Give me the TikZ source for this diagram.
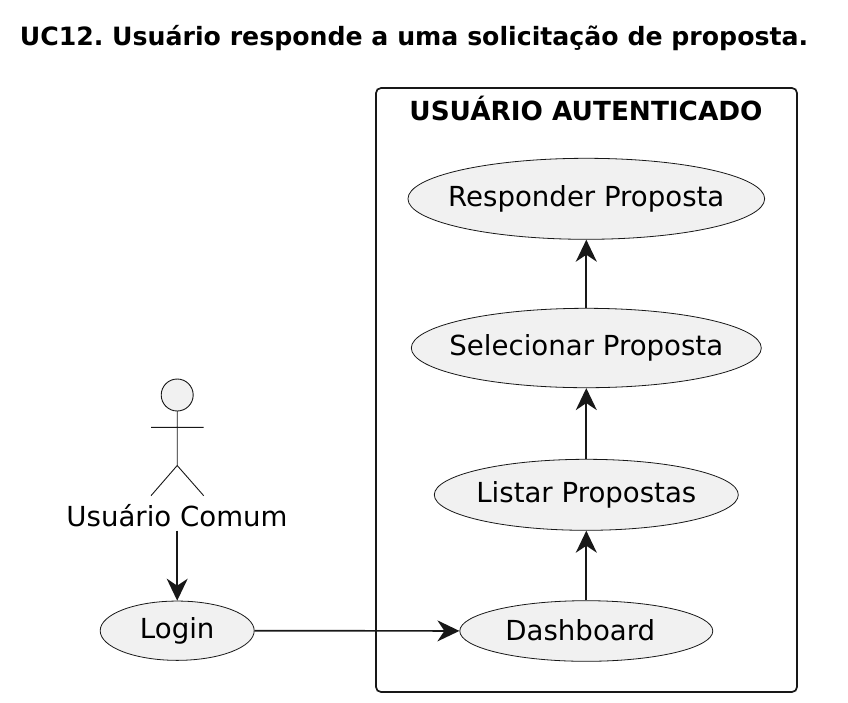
\documentclass[tikz,border=0pt]{standalone}
\usepackage{fontspec}
\setmainfont{DejaVu Sans}
\usetikzlibrary{shapes.geometric,arrows.meta}
\definecolor{ucfill}{HTML}{F1F1F1}
\definecolor{ucline}{HTML}{181818}
\frenchspacing
\tikzset{
  uc/.style={ellipse,draw=ucline,fill=ucfill,line width=0.8pt,inner xsep=-40pt,inner ysep=-10pt,font=\fontsize{27.6}{32}\selectfont},
  conn/.style={draw=ucline,line width=1.7pt,-{Stealth[length=22pt,width=21pt,inset=7pt]}},
  actorline/.style={draw=ucline,line width=0.9pt},
  lbl/.style={text=black,inner sep=0pt}
}
\begin{document}
\begin{tikzpicture}[x=1pt,y=-1pt]
\useasboundingbox (0,0) rectangle (848,702);
\fill[white] (0,0) rectangle (848,702);
\node[lbl,font=\bfseries\fontsize{25.2}{30}\selectfont] (title) at (414,38) {UC12. Usuário responde a uma solicitação de proposta.};
\draw[ucline,line width=1.7pt,rounded corners=5pt] (376,88) rectangle (797,692);
\node[lbl,font=\bfseries\fontsize{26.3}{30}\selectfont] (pkg) at (586,108) {USUÁRIO AUTENTICADO};
\node[uc,minimum width=356.7pt,minimum height=81pt] (r) at (586.3,198.8) {Responder Proposta};
\node[uc,minimum width=350pt,minimum height=79.4pt] (s) at (586.3,348) {Selecionar Proposta};
\node[uc,minimum width=304pt,minimum height=71pt] (l) at (586.3,494.8) {Listar Propostas};
\node[uc,minimum width=253pt,minimum height=60.6pt] (d) at (586.3,631) {\raisebox{2pt}{\kern-12pt Dashboard}};
\node[uc,minimum width=154pt,minimum height=59.3pt] (login) at (177.2,630.7) {\raisebox{0.7pt}{Login}};
\draw[actorline,fill=ucfill] (177.2,395) circle (16);
\draw[actorline] (177.2,411) -- (177.2,465.5) (151,427.3) -- (203.7,427.3) (177.2,465.5) -- (151,495.7) (177.2,465.5) -- (203.7,495.7);
\node[lbl,font=\fontsize{27.6}{32}\selectfont] (actor) at (177,516) {Usuário Comum};
\coordinate (actorfoot) at (177.2,530.7);
\draw[conn] (actorfoot) -- (login.north);
\draw[conn] (login) -- (d);
\draw[conn] (d) -- (l);
\draw[conn] (l) -- (s);
\draw[conn] (s) -- (r);
\end{tikzpicture}
\end{document}
